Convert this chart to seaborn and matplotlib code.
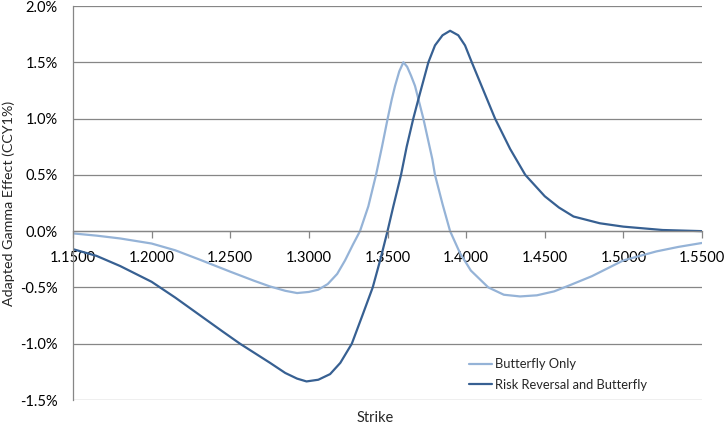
import matplotlib
matplotlib.use("Agg")
import matplotlib.pyplot as plt
from matplotlib.ticker import FuncFormatter
import seaborn as sns
import pandas as pd

# ---- data (values in percent) ----
butterfly_x = [1.150, 1.165, 1.180, 1.200, 1.215, 1.230, 1.250, 1.265, 1.275, 1.285,
               1.2925, 1.300, 1.306, 1.312, 1.318, 1.323, 1.328, 1.3325, 1.3378, 1.3427,
               1.3465, 1.3501, 1.3527, 1.3548, 1.3575, 1.3601, 1.3625, 1.365, 1.3675, 1.3728,
               1.3785, 1.3802, 1.385, 1.3898, 1.3961, 1.403, 1.4141, 1.424, 1.4343, 1.445,
               1.456, 1.466, 1.480, 1.500, 1.521, 1.535, 1.550]
butterfly_y = [-0.02, -0.04, -0.065, -0.11, -0.17, -0.25, -0.36, -0.44, -0.49, -0.53,
               -0.55, -0.54, -0.52, -0.47, -0.38, -0.26, -0.12, 0.00, 0.22, 0.50,
               0.75, 1.00, 1.17, 1.29, 1.42, 1.50, 1.46, 1.38, 1.29, 1.00,
               0.64, 0.50, 0.24, 0.00, -0.195, -0.35, -0.50, -0.565, -0.58, -0.57,
               -0.535, -0.48, -0.40, -0.26, -0.18, -0.14, -0.105]

rrbf_x = [1.150, 1.165, 1.180, 1.200, 1.215, 1.230, 1.245, 1.2562, 1.2753, 1.285,
          1.2925, 1.2985, 1.306, 1.3135, 1.320, 1.3273, 1.334, 1.3406, 1.3455, 1.350,
          1.3537, 1.3586, 1.3622, 1.3664, 1.3696, 1.376, 1.3802, 1.385, 1.3898, 1.395,
          1.3993, 1.4036, 1.411, 1.4184, 1.428, 1.4376, 1.450, 1.459, 1.4683, 1.485,
          1.500, 1.525, 1.550]
rrbf_y = [-0.16, -0.22, -0.31, -0.45, -0.59, -0.74, -0.89, -1.00, -1.17, -1.26,
          -1.31, -1.335, -1.32, -1.27, -1.17, -1.00, -0.75, -0.50, -0.25, 0.00,
          0.22, 0.50, 0.75, 1.00, 1.17, 1.50, 1.65, 1.74, 1.78, 1.74,
          1.65, 1.50, 1.25, 1.00, 0.73, 0.50, 0.31, 0.21, 0.13, 0.07,
          0.04, 0.01, 0.00]

series_names = ["Butterfly Only", "Risk Reversal and Butterfly"]
x_ticks = [1.15, 1.20, 1.25, 1.30, 1.35, 1.40, 1.45, 1.50, 1.55]
y_ticks = [-1.5, -1.0, -0.5, 0.0, 0.5, 1.0, 1.5, 2.0]

df = pd.concat([
    pd.DataFrame({"Strike": butterfly_x, "Effect": butterfly_y, "Series": series_names[0]}),
    pd.DataFrame({"Strike": rrbf_x, "Effect": rrbf_y, "Series": series_names[1]}),
], ignore_index=True)

sns.set_theme(style="white")
plt.rcParams["font.family"] = ["Lato", "DejaVu Sans"]

fig = plt.figure(figsize=(7.25, 4.25), dpi=100)
ax = fig.add_axes([73 / 725, 1 - 400 / 425, (702 - 73) / 725, (400 - 6) / 425])

palette = {series_names[0]: "#95B3D7", series_names[1]: "#376092"}
sns.lineplot(data=df, x="Strike", y="Effect", hue="Series", palette=palette,
             estimator=None, sort=False, linewidth=1.6, ax=ax, legend=True)
for ln in ax.get_lines():
    ln.set_solid_joinstyle("round")
    ln.set_solid_capstyle("round")

ax.set_xlim(1.15, 1.55)
ax.set_ylim(-1.5, 2.0)
ax.set_xticks(x_ticks)
ax.set_yticks(y_ticks)
ax.xaxis.set_major_formatter(FuncFormatter(lambda v, p: f"{v:.4f}"))
ax.yaxis.set_major_formatter(FuncFormatter(lambda v, p: f"{v:.1f}%"))

gray = "#868686"
ax.grid(axis="y", color=gray, linewidth=0.9)
ax.grid(axis="x", visible=False)
ax.set_axisbelow(True)
for s in ["top", "right"]:
    ax.spines[s].set_visible(False)
ax.spines["bottom"].set_position(("data", 0))
ax.spines["bottom"].set_color(gray)
ax.spines["left"].set_color(gray)
ax.spines["bottom"].set_linewidth(0.9)
ax.spines["left"].set_linewidth(0.9)

ax.tick_params(axis="x", direction="out", length=5, width=0.9, color=gray,
               pad=9, labelsize=10.5, labelcolor="black", bottom=True)
ax.tick_params(axis="y", length=0, pad=11, labelsize=10.5, labelcolor="black", left=True)

ax.set_xlabel("")
ax.set_ylabel("")
fig.text(375 / 725, 1 - 418 / 425, "Strike", ha="center", va="center", fontsize=10.5)
fig.text(9 / 725, 1 - 203 / 425, "Adapted Gamma Effect (CCY1%)", ha="center", va="center",
         rotation=90, fontsize=10.3)

handles, labels = ax.get_legend_handles_labels()
ax.legend(handles, labels, loc="upper left", bbox_to_anchor=(463 / 725, 1 - 352 / 425),
          bbox_transform=fig.transFigure, frameon=False, fontsize=9.3, borderpad=0,
          handlelength=1.75, handletextpad=0.2, labelspacing=0.65)

fig.savefig("out.png", dpi=100)
